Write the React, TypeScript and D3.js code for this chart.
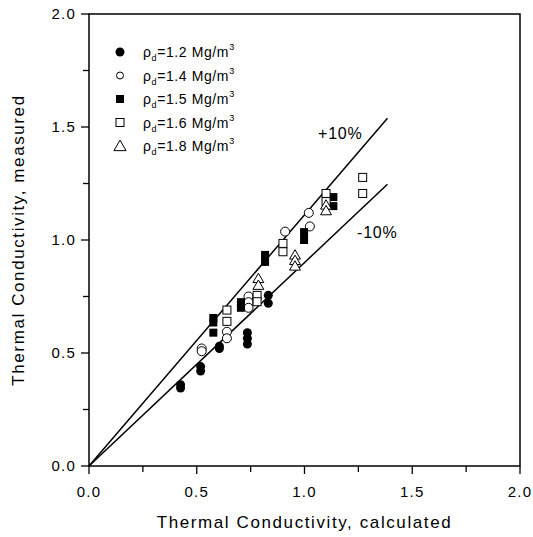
import React from "react";
import * as d3 from "d3";

const W = 533, H = 537;
const margin = { left: 89, right: 13, top: 14, bottom: 71 };

const s12x = [0.425, 0.425, 0.518, 0.518, 0.605, 0.605, 0.735, 0.735, 0.735, 0.832, 0.832];
const s12y = [0.36, 0.345, 0.44, 0.42, 0.53, 0.52, 0.59, 0.565, 0.54, 0.755, 0.72];

const s14x = [0.523, 0.523, 0.64, 0.64, 0.74, 0.74, 0.74, 0.91, 1.02, 1.025];
const s14y = [0.52, 0.508, 0.594, 0.565, 0.75, 0.725, 0.70, 1.037, 1.12, 1.06];

const s15x = [0.577, 0.577, 0.577, 0.705, 0.705, 0.817, 0.817, 0.998, 0.998, 1.134, 1.134];
const s15y = [0.655, 0.635, 0.59, 0.725, 0.70, 0.934, 0.903, 1.035, 1.0, 1.19, 1.15];

const s16x = [0.64, 0.64, 0.78, 0.78, 0.90, 0.90, 1.10, 1.10, 1.27, 1.27];
const s16y = [0.69, 0.64, 0.755, 0.727, 0.985, 0.948, 1.206, 1.17, 1.277, 1.206];

const s18x = [0.786, 0.786, 0.956, 0.956, 0.956, 1.10, 1.10];
const s18y = [0.83, 0.80, 0.934, 0.91, 0.885, 1.155, 1.13];

const legendLabels = ["1.2", "1.4", "1.5", "1.6", "1.8"];
const ticks = [0, 0.5, 1.0, 1.5, 2.0];
const minorTicks = [0.25, 0.75, 1.25, 1.75];
const lineEnd = 1.385;
const factors = [1 / 0.9, 0.9];

type Kind = "fcircle" | "ocircle" | "fsquare" | "osquare" | "otri";

function Marker({ kind, x, y, legend }: { kind: Kind; x: number; y: number; legend?: boolean }) {
  switch (kind) {
    case "fcircle":
      return <circle cx={x} cy={y} r={4.5} fill="black" />;
    case "ocircle":
      return <circle cx={x} cy={y} r={legend ? 3.5 : 4.5} fill="white" stroke="black" strokeWidth={1} />;
    case "fsquare":
      return <rect x={x - 4} y={y - 4} width={8} height={8} fill="black" />;
    case "osquare":
      return <rect x={x - 4} y={y - 4} width={8} height={8} fill="white" stroke="black" strokeWidth={1} />;
    case "otri": {
      const a = legend ? 5.8 : 5.2;
      return (
        <path
          d={`M${x},${y - a} L${x + a * 1.05},${y + a * 0.8} L${x - a * 1.05},${y + a * 0.8} Z`}
          fill="white"
          stroke="black"
          strokeWidth={1}
        />
      );
    }
  }
}

export default function App() {
  const x = d3.scaleLinear().domain([0, 2]).range([margin.left, W - margin.right]);
  const y = d3.scaleLinear().domain([0, 2]).range([H - margin.bottom, margin.top]);

  const series: { kind: Kind; xs: number[]; ys: number[] }[] = [
    { kind: "fcircle", xs: s12x, ys: s12y },
    { kind: "ocircle", xs: s14x, ys: s14y },
    { kind: "fsquare", xs: s15x, ys: s15y },
    { kind: "osquare", xs: s16x, ys: s16y },
    { kind: "otri", xs: s18x, ys: s18y },
  ];

  const line = d3
    .line<[number, number]>()
    .x((d) => x(d[0]))
    .y((d) => y(d[1]));

  const font = "Arial, 'Liberation Sans', sans-serif";
  const x0 = x(0), x1 = x(2), y0 = y(0), y1 = y(2);

  return (
    <svg width={W} height={H} style={{ position: "absolute", left: 0, top: 0 }} fontFamily={font}>
      <rect width={W} height={H} fill="white" />
      {/* +/-10% lines */}
      {factors.map((f, i) => (
        <path key={i} d={line([[0, 0], [lineEnd, lineEnd * f]]) || ""} stroke="black" strokeWidth={1.5} fill="none" />
      ))}
      <text x={318} y={139} fontSize={16} letterSpacing={0.8} fill="black">+10%</text>
      <text x={357} y={238} fontSize={16} letterSpacing={0.8} fill="black">-10%</text>

      {/* data */}
      {series.map((s, si) =>
        s.xs.map((xv, i) => <Marker key={si + "-" + i} kind={s.kind} x={x(xv)} y={y(s.ys[i])} />)
      )}

      {/* frame */}
      <rect x={x0} y={y1} width={x1 - x0} height={y0 - y1} fill="none" stroke="black" strokeWidth={1.5} />

      {/* x ticks */}
      {ticks.map((t) => (
        <g key={"xt" + t}>
          <line x1={x(t)} x2={x(t)} y1={y0} y2={y0 + 8} stroke="black" strokeWidth={1.3} />
          <text x={x(t)} y={y0 + 31} fontSize={15} letterSpacing={1.2} textAnchor="middle">{t.toFixed(1)}</text>
        </g>
      ))}
      {minorTicks.map((t) => (
        <line key={"xm" + t} x1={x(t)} x2={x(t)} y1={y0} y2={y0 + 6} stroke="black" strokeWidth={1.3} />
      ))}
      {/* y ticks */}
      {ticks.map((t) => (
        <g key={"yt" + t}>
          <line x1={x0 - 8} x2={x0} y1={y(t)} y2={y(t)} stroke="black" strokeWidth={1.3} />
          <text x={x0 - 13} y={y(t) + 5} fontSize={15} letterSpacing={1.2} textAnchor="end">{t.toFixed(1)}</text>
        </g>
      ))}
      {minorTicks.map((t) => (
        <line key={"ym" + t} x1={x0 - 6} x2={x0} y1={y(t)} y2={y(t)} stroke="black" strokeWidth={1.3} />
      ))}

      {/* axis titles */}
      <text x={(x0 + x1) / 2} y={528} fontSize={17} letterSpacing={1.6} textAnchor="middle">
        Thermal Conductivity, calculated
      </text>
      <text transform={`translate(24,${(y0 + y1) / 2}) rotate(-90)`} fontSize={17} letterSpacing={1.6} textAnchor="middle">
        Thermal Conductivity, measured
      </text>

      {/* legend */}
      {series.map((s, i) => {
        const ly = 52 + i * 23.5;
        return (
          <g key={"lg" + i}>
            <Marker kind={s.kind} x={120} y={ly} legend />
            <text x={143} y={ly + 5} fontSize={14} letterSpacing={0.6}>
              <tspan>ρ</tspan>
              <tspan fontSize={9} dy={4}>d</tspan>
              <tspan dy={-4}>{"=" + legendLabels[i] + " Mg/m"}</tspan>
              <tspan fontSize={9} dy={-7}>3</tspan>
            </text>
          </g>
        );
      })}
    </svg>
  );
}
